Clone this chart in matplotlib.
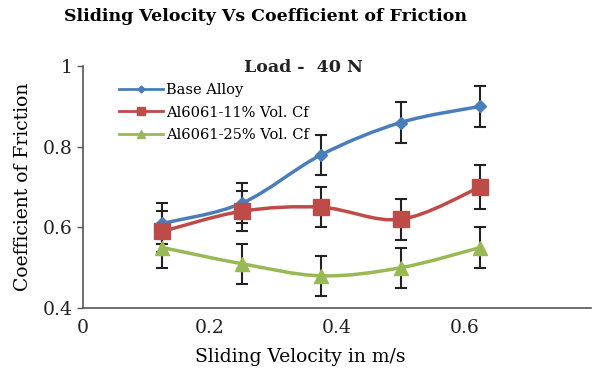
import numpy as np
import matplotlib.pyplot as plt
from matplotlib.path import Path
from matplotlib.patches import PathPatch

# sliding velocity (m/s) and coefficient of friction at 40 N load
velocity = [0.125, 0.25, 0.375, 0.5, 0.625]
base_alloy = [0.61, 0.66, 0.78, 0.86, 0.90]
cf_11 = [0.59, 0.64, 0.65, 0.62, 0.70]
cf_25 = [0.55, 0.51, 0.48, 0.50, 0.55]
err_base = [0.05, 0.05, 0.05, 0.05, 0.05]
err_11 = [0.05, 0.05, 0.05, 0.05, 0.055]
err_25 = [0.05, 0.05, 0.05, 0.05, 0.05]

series = [
    ("Base Alloy", base_alloy, err_base, "#4a7ebb", "D", 6.5),
    ("Al6061-11% Vol. Cf", cf_11, err_11, "#be4b48", "s", 11),
    ("Al6061-25% Vol. Cf", cf_25, err_25, "#98b954", "^", 10),
]

plt.rcParams['font.family'] = 'DejaVu Serif'


def smooth_path(x, y, t=1/6):
    # bezier segments through every point, like a smoothed spreadsheet line
    x = np.asarray(x, float)
    y = np.asarray(y, float)
    n = len(x)
    verts = [(x[0], y[0])]
    codes = [Path.MOVETO]
    for i in range(n - 1):
        x0, y0 = (x[i - 1], y[i - 1]) if i > 0 else (x[i], y[i])
        x3, y3 = (x[i + 2], y[i + 2]) if i + 2 < n else (x[i + 1], y[i + 1])
        c1 = (x[i] + (x[i + 1] - x0) * t, y[i] + (y[i + 1] - y0) * t)
        c2 = (x[i + 1] - (x3 - x[i]) * t, y[i + 1] - (y3 - y[i]) * t)
        verts += [c1, c2, (x[i + 1], y[i + 1])]
        codes += [Path.CURVE4] * 3
    return Path(verts, codes)


fig = plt.figure(figsize=(5.93, 3.73), dpi=100)
ax = fig.add_axes([0.14, 0.174, 0.857, 0.649])

for label, vals, err, color, marker, ms in series:
    ax.add_patch(PathPatch(smooth_path(velocity, vals), facecolor='none',
                           edgecolor=color, lw=2.5, zorder=2))
    ax.errorbar(velocity, vals, yerr=err, fmt='none', ecolor='#222222',
                elinewidth=1.5, capsize=4, capthick=1.5, zorder=3)
    ax.plot(velocity, vals, linestyle='none', marker=marker, ms=ms,
            color=color, zorder=4)
    # legend handle: line with marker
    ax.plot([], [], color=color, lw=2, marker=marker, ms=ms * 0.55, label=label)

ax.set_xlim(0, 0.8)
ax.set_ylim(0.4, 1.0)
ax.set_xticks([0, 0.2, 0.4, 0.6])
ax.set_xticklabels(['0', '0.2', '0.4', '0.6'])
ax.set_yticks([0.4, 0.6, 0.8, 1.0])
ax.set_yticklabels(['0.4', '0.6', '0.8', '1'])
ax.tick_params(axis='both', labelsize=13.5, length=4, width=1, color='#555555',
               labelcolor='#222222')
ax.tick_params(axis='x', length=0, pad=8)
for side in ['top', 'right']:
    ax.spines[side].set_visible(False)
for side in ['left', 'bottom']:
    ax.spines[side].set_color('#555555')
    ax.spines[side].set_linewidth(1.2)

ax.legend(loc='upper left', bbox_to_anchor=(0.045, 0.985), frameon=False,
          fontsize=10.5, handlelength=3.0, handletextpad=0.2, labelspacing=0.6)
ax.text(0.433, 0.995, "Load -  40 N", transform=ax.transAxes, ha='center',
        va='center', fontsize=12.5, fontweight='bold', color='#222222')

fig.text(0.447, 0.955, "Sliding Velocity Vs Coefficient of Friction",
         ha='center', va='center', fontsize=12.5, fontweight='bold')
ax.set_xlabel("Sliding Velocity in m/s", fontsize=13.5)
ax.xaxis.set_label_coords(0.427, -0.165)
ax.set_ylabel("Coefficient of Friction", fontsize=13.5, labelpad=8)

fig.savefig("out.png", dpi=100)
